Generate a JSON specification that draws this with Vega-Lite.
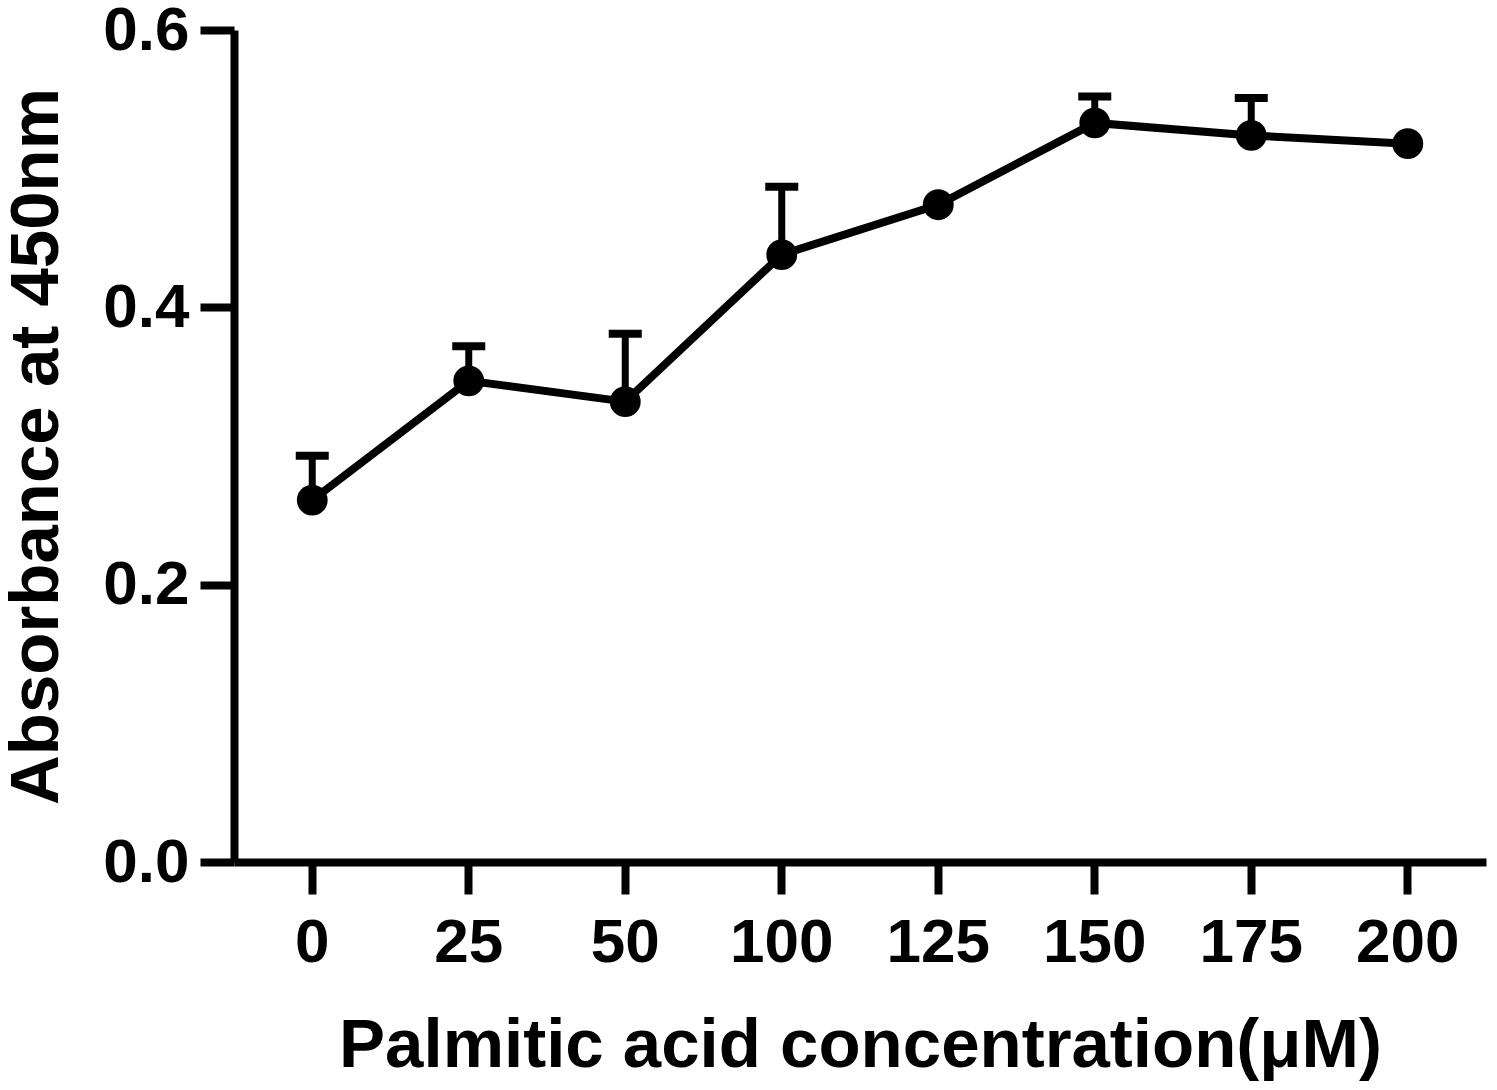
{
  "$schema": "https://vega.github.io/schema/vega-lite/v6.json",
  "autosize": "none",
  "width": 1252,
  "height": 832,
  "padding": {"left": 234, "top": 30, "right": 11, "bottom": 228},
  "background": "white",
  "config": {
    "view": {"stroke": null},
    "axis": {
      "domainColor": "black",
      "domainWidth": 8,
      "tickColor": "black",
      "tickWidth": 8,
      "labelColor": "black",
      "titleColor": "black",
      "labelFont": "Liberation Sans",
      "titleFont": "Liberation Sans",
      "labelFontWeight": "bold",
      "titleFontWeight": "bold",
      "labelFontSize": 62,
      "titleFontSize": 69,
      "grid": false
    }
  },
  "data": {
    "values": [
      {"conc": 0, "mean": 0.261, "upper": 0.293},
      {"conc": 25, "mean": 0.347, "upper": 0.372},
      {"conc": 50, "mean": 0.332, "upper": 0.381},
      {"conc": 100, "mean": 0.438, "upper": 0.487},
      {"conc": 125, "mean": 0.474, "upper": null},
      {"conc": 150, "mean": 0.533, "upper": 0.552},
      {"conc": 175, "mean": 0.524, "upper": 0.551},
      {"conc": 200, "mean": 0.518, "upper": null}
    ]
  },
  "encoding": {
    "x": {
      "field": "conc",
      "type": "ordinal",
      "scale": {"paddingInner": 0, "paddingOuter": 0},
      "axis": {
        "title": "Palmitic acid concentration(μM)",
        "labelAngle": 0,
        "tickSize": 32,
        "labelPadding": 18,
        "titlePadding": 38
      }
    }
  },
  "layer": [
    {
      "transform": [{"filter": "datum.upper != null"}],
      "mark": {"type": "rule", "color": "black", "strokeWidth": 7},
      "encoding": {
        "y": {"field": "mean", "type": "quantitative"},
        "y2": {"field": "upper"}
      }
    },
    {
      "transform": [{"filter": "datum.upper != null"}],
      "mark": {"type": "tick", "color": "black", "thickness": 8, "size": 33, "orient": "horizontal", "opacity": 1},
      "encoding": {
        "y": {"field": "upper", "type": "quantitative"}
      }
    },
    {
      "mark": {"type": "line", "color": "black", "strokeWidth": 8},
      "encoding": {
        "y": {
          "field": "mean",
          "type": "quantitative",
          "scale": {"domain": [0, 0.6], "nice": false},
          "axis": {
            "title": "Absorbance at 450nm",
            "values": [0, 0.2, 0.4, 0.6],
            "format": ".1f",
            "tickSize": 34,
            "labelPadding": 11,
            "titlePadding": 31
          }
        }
      }
    },
    {
      "mark": {"type": "point", "filled": true, "color": "black", "opacity": 1, "size": 950},
      "encoding": {
        "y": {"field": "mean", "type": "quantitative"}
      }
    }
  ]
}
